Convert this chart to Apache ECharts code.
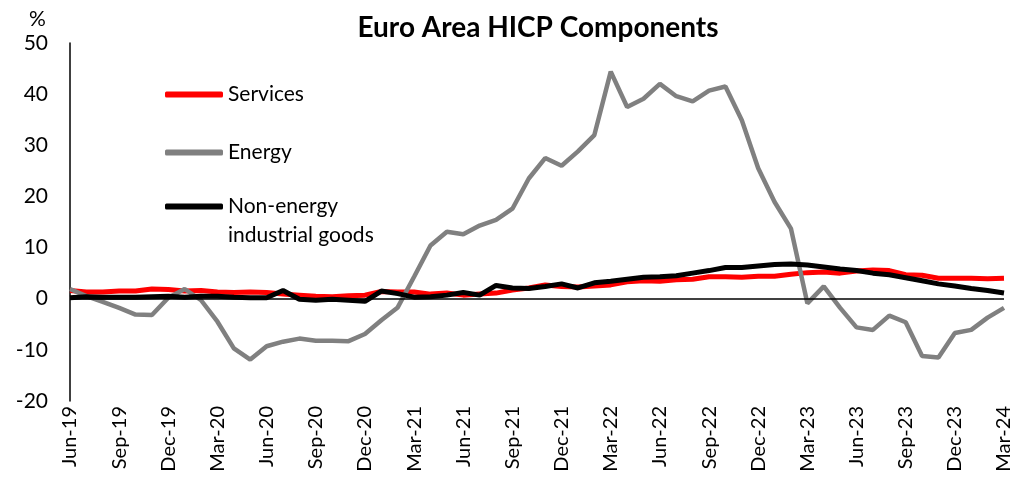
<!DOCTYPE html>
<html lang="en">
<head>
    <meta charset="UTF-8">
    <script src="https://cdn.jsdelivr.net/npm/echarts@6/dist/echarts.min.js"></script>
    <title>Euro Area HICP Components</title>
    <style>
        html, body { margin: 0; padding: 0; background: #fff; }
        #main { width: 1015px; height: 488px; }
    </style>
</head>
<body>
<div id="main"></div>
<script>
    // months Jun-19 .. Mar-24
    var months = ['Jun-19','Jul-19','Aug-19','Sep-19','Oct-19','Nov-19','Dec-19',
        'Jan-20','Feb-20','Mar-20','Apr-20','May-20','Jun-20','Jul-20','Aug-20','Sep-20','Oct-20','Nov-20','Dec-20',
        'Jan-21','Feb-21','Mar-21','Apr-21','May-21','Jun-21','Jul-21','Aug-21','Sep-21','Oct-21','Nov-21','Dec-21',
        'Jan-22','Feb-22','Mar-22','Apr-22','May-22','Jun-22','Jul-22','Aug-22','Sep-22','Oct-22','Nov-22','Dec-22',
        'Jan-23','Feb-23','Mar-23','Apr-23','May-23','Jun-23','Jul-23','Aug-23','Sep-23','Oct-23','Nov-23','Dec-23',
        'Jan-24','Feb-24','Mar-24'];

    var services = [1.6,1.3,1.3,1.5,1.5,1.9,1.8,
        1.5,1.6,1.3,1.2,1.3,1.2,0.9,0.7,0.5,0.4,0.6,0.7,
        1.4,1.3,1.3,0.9,1.1,0.7,0.9,1.1,1.7,2.1,2.7,2.4,
        2.3,2.5,2.7,3.3,3.5,3.4,3.7,3.8,4.3,4.3,4.2,4.4,
        4.4,4.8,5.1,5.2,5.0,5.4,5.6,5.5,4.7,4.6,4.0,4.0,
        4.0,3.9,4.0];

    var energy = [1.9,0.5,-0.6,-1.8,-3.1,-3.2,0.2,
        1.9,-0.3,-4.5,-9.7,-11.9,-9.3,-8.4,-7.8,-8.2,-8.2,-8.3,-6.9,
        -4.2,-1.7,4.3,10.4,13.1,12.6,14.3,15.4,17.6,23.5,27.5,26.0,
        28.8,32.0,44.4,37.5,39.1,42.0,39.6,38.6,40.7,41.5,34.9,25.5,
        18.9,13.7,-0.9,2.4,-1.8,-5.6,-6.1,-3.3,-4.6,-11.2,-11.5,-6.7,
        -6.1,-3.7,-1.8];

    var neig = [0.2,0.4,0.3,0.3,0.3,0.4,0.5,
        0.3,0.5,0.5,0.3,0.2,0.2,1.6,-0.1,-0.3,-0.1,-0.3,-0.5,
        1.5,1.0,0.3,0.4,0.7,1.2,0.7,2.6,2.1,2.0,2.4,2.9,
        2.1,3.1,3.4,3.8,4.2,4.3,4.5,5.0,5.5,6.1,6.1,6.4,
        6.7,6.8,6.6,6.2,5.8,5.5,5.0,4.7,4.1,3.5,2.9,2.5,
        2.0,1.6,1.1];

    var chart = echarts.init(document.getElementById('main'));
    var font = 'Lato, "Noto Sans", sans-serif';

    // one legend per item so each can sit where it sits in the original
    function legendAt(name, top, formatter) {
        var lg = {
            orient: 'vertical',
            left: 165,
            top: top,
            padding: 0,
            itemWidth: 58,
            itemHeight: 6,
            itemGap: 0,
            icon: 'roundRect',
            textStyle: {
                fontFamily: font, fontSize: 21, color: '#000', lineHeight: 29,
                rich: {e: {lineHeight: 29, fontSize: 21}, t: {lineHeight: 29, fontSize: 21, fontFamily: font, color: '#000'}}
            },
            data: [name]
        };
        if (formatter) lg.formatter = formatter;
        return lg;
    }

    var option = {
        animation: false,
        textStyle: {fontFamily: font},
        title: {
            text: 'Euro Area HICP Components',
            left: 533,
            textAlign: 'center',
            top: 9,
            textStyle: {fontFamily: font, fontSize: 28, fontWeight: 'bold', color: '#000'}
        },
        graphic: [{
            type: 'text',
            left: 29,
            top: 9,
            style: {text: '%', fontFamily: font, fontSize: 21, fill: '#000'}
        }],
        legend: [
            legendAt('Services', 80),
            legendAt('Energy', 138),
            legendAt('Non-energy industrial goods', 163, function () {
                return '{e| }\n{t|Non-energy}\n{t|industrial goods}';
            })
        ],
        grid: {left: 70, right: 11, top: 43, bottom: 87},
        xAxis: {
            type: 'category',
            data: months,
            boundaryGap: false,
            axisLine: {show: false},
            axisTick: {show: false},
            axisLabel: {
                interval: 2,
                rotate: 90,
                fontFamily: font,
                fontSize: 20,
                color: '#000',
                margin: 5
            }
        },
        yAxis: {
            type: 'value',
            min: -20,
            max: 50,
            interval: 10,
            axisLine: {show: true, lineStyle: {color: '#000', width: 1.5}},
            axisTick: {show: false},
            splitLine: {show: false},
            axisLabel: {fontFamily: font, fontSize: 21, color: '#000', margin: 22}
        },
        series: [
            {
                name: 'Services',
                type: 'line',
                data: services,
                symbol: 'none',
                lineStyle: {color: '#ff0000', width: 5},
                itemStyle: {color: '#ff0000'},
                markLine: {
                    silent: true,
                    symbol: 'none',
                    label: {show: false},
                    lineStyle: {color: '#000', width: 1.5, type: 'solid'},
                    data: [{yAxis: 0}]
                }
            },
            {
                name: 'Energy',
                type: 'line',
                data: energy,
                symbol: 'none',
                lineStyle: {color: '#808080', width: 4.5},
                itemStyle: {color: '#808080'}
            },
            {
                name: 'Non-energy industrial goods',
                type: 'line',
                data: neig,
                symbol: 'none',
                lineStyle: {color: '#000', width: 5},
                itemStyle: {color: '#000'}
            }
        ]
    };

    chart.setOption(option);
</script>
</body>
</html>
